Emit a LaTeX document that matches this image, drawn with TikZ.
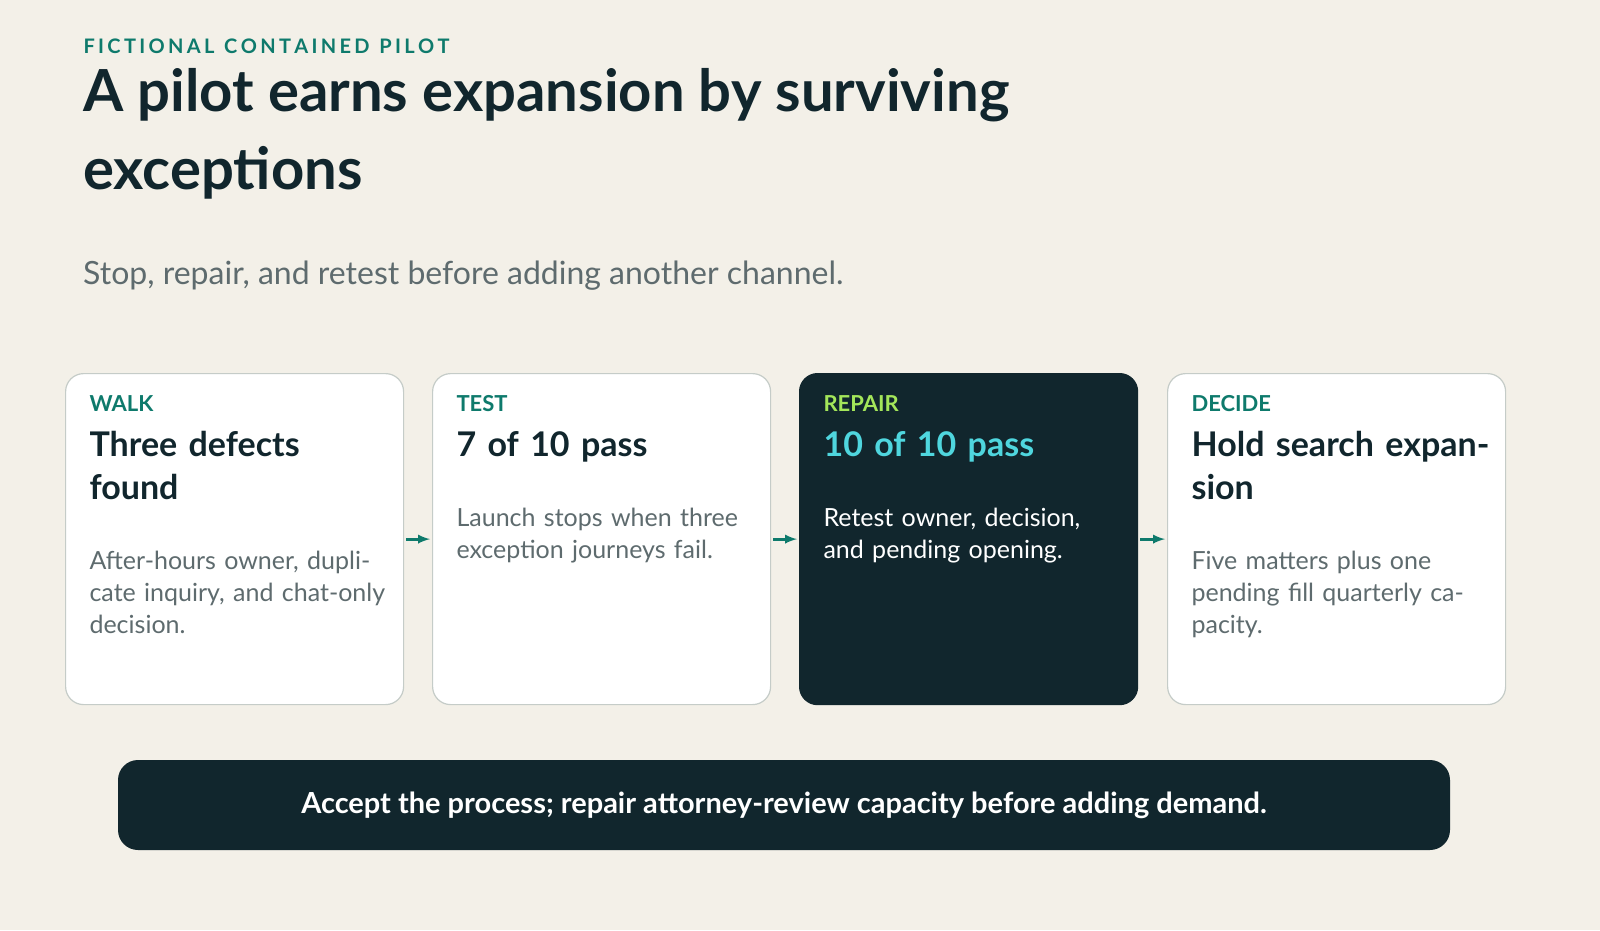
\documentclass[tikz,border=0pt]{standalone}
\usepackage{fontspec}
\setmainfont{Lato}
\usetikzlibrary{positioning}
\definecolor{paper}{HTML}{F3F0E8}
\definecolor{ink}{HTML}{11262D}
\definecolor{teal}{HTML}{0E7A6C}
\definecolor{grey}{HTML}{5E6B6E}
\definecolor{rim}{HTML}{C5CCC8}
\definecolor{lime}{HTML}{A4E65A}
\definecolor{cyan}{HTML}{4FD6DE}
\tikzset{
  %card style
  card/.style={
    draw=rim
    , fill=white
    , line width=1.2pt
    , rounded corners=18pt
    , minimum width=338pt
    , minimum height=331pt
    , anchor=north west
  },
  dark/.style={card, draw=ink, fill=ink},
  tag/.style={anchor=north west, font=\bfseries\fontsize{22}{24}\selectfont, text=teal},
  head/.style={anchor=north west, font=\bfseries\fontsize{34}{43}\selectfont, text=ink, align=left, text width=300pt},
  body/.style={anchor=north west, font=\fontsize{25}{32}\selectfont, text=grey, align=left, text width=300pt},
  flow/.style={-latex, line width=3pt, teal},
}
\begin{document}
\begin{tikzpicture}[x=1pt,y=-1pt]
  \fill [paper] (0,0) rectangle (1600,930);
  \node [anchor=west, font=\bfseries\fontsize{20}{24}\selectfont, text=teal] (kicker) at (80,46) {F\,I\,C\,T\,I\,O\,N\,A\,L\ \ C\,O\,N\,T\,A\,I\,N\,E\,D\ \ P\,I\,L\,O\,T};
  \node [anchor=north west, font=\bfseries\fontsize{58}{78}\selectfont, text=ink, align=left, inner sep=0pt] (title) at (83,68) {A pilot earns expansion by surviving\\exceptions};
  \node [anchor=west, font=\fontsize{32}{36}\selectfont, text=grey, inner sep=0pt] (sub) at (83,276) {Stop, repair, and retest before adding another channel.};

  \node [card] (walk) at (65,373) {};
  \node [card] (test) at (432,373) {};
  \node [dark] (repair) at (799,373) {};
  \node [card] (decide) at (1167,373) {};

  \node [tag] (walk-t) at (86,392) {WALK};
  \node [head] (walk-h) at (86,428) {Three defects found};
  \node [body] (walk-b) at (86,548) {After-hours owner, duplicate inquiry, and chat-only decision.};

  \node [tag] (test-t) at (453,392) {TEST};
  \node [head] (test-h) at (453,428) {7 of 10 pass};
  \node [body] (test-b) at (453,505) {Launch stops when three exception journeys fail.};

  \node [tag, text=lime] (repair-t) at (820,392) {REPAIR};
  \node [head, text=cyan] (repair-h) at (820,428) {10 of 10 pass};
  \node [body, text=white] (repair-b) at (820,505) {Retest owner, decision, and pending opening.};

  \node [tag] (decide-t) at (1188,392) {DECIDE};
  \node [head] (decide-h) at (1188,428) {Hold search expansion};
  \node [body] (decide-b) at (1188,548) {Five matters plus one pending fill quarterly capacity.};

  \draw [flow] ([xshift=2pt]walk.east) -- ([xshift=-2pt]test.west);
  \draw [flow] ([xshift=2pt]test.east) -- ([xshift=-2pt]repair.west);
  \draw [flow] ([xshift=2pt]repair.east) -- ([xshift=-2pt]decide.west);

  \node [fill=ink, rounded corners=20pt, minimum width=1332pt, minimum height=90pt, text=white, font=\bfseries\fontsize{29}{34}\selectfont] (verdict) at (784,805) {Accept the process; repair attorney-review capacity before adding demand.};
\end{tikzpicture}
\end{document}
